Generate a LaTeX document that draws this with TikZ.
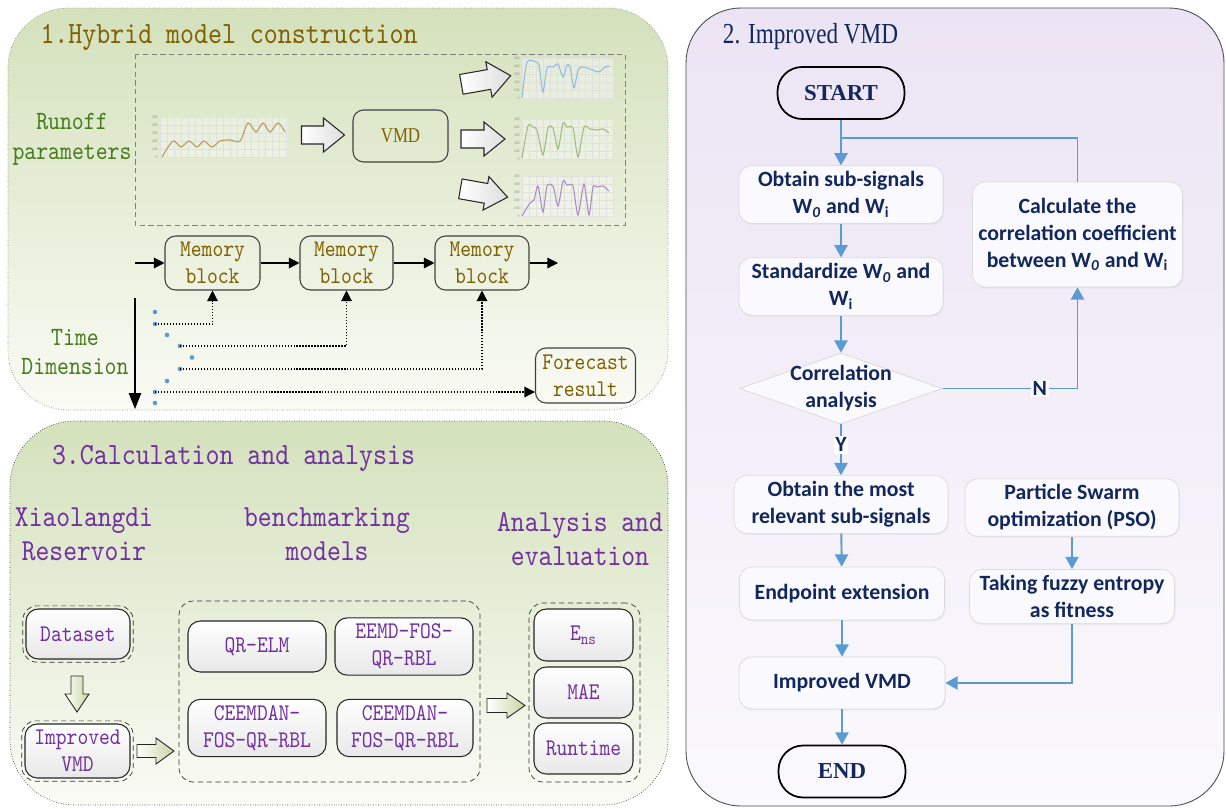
\documentclass[tikz,border=0pt]{standalone}
\usepackage{fontspec}
\usepackage{xcolor}
\usepackage{tikz}
\usetikzlibrary{arrows.meta,shapes.geometric,shadows,fit}
\setmainfont{Liberation Serif}
\newfontfamily\monofnt[FakeStretch=0.86]{lmmono10-regular.otf}
\newfontfamily\condfnt[FakeStretch=0.8]{Liberation Serif}
\newfontfamily\califnt{Carlito}
\definecolor{hdolive}{HTML}{7F6000}
\definecolor{hdgreen}{HTML}{457B1D}
\definecolor{hdpurple}{HTML}{7030A0}
\definecolor{flownavy}{HTML}{12285C}
\definecolor{flowblue}{HTML}{5B9BD5}
\definecolor{bggreen}{HTML}{D4E1BC}
\definecolor{bggreenlt}{HTML}{FAFBF5}
\definecolor{bglav}{HTML}{ECE4F4}
\definecolor{bglavlt}{HTML}{FAF9FD}
\definecolor{sigblue}{HTML}{8FBBE0}
\definecolor{siggreen}{HTML}{9DBB7E}
\definecolor{sigpurple}{HTML}{A98BC6}
\definecolor{sigtan}{HTML}{B59A5A}
\definecolor{arrgreen}{HTML}{C6D7A2}

\tikzset{
  pics/blockarr/.style n args={4}{code={
    \draw[pic actions] (-#1/2,-#3/2) -- (#1/2-#4,-#3/2) -- (#1/2-#4,-#2/2)
      -- (#1/2,0) -- (#1/2-#4,#2/2) -- (#1/2-#4,#3/2) -- (-#1/2,#3/2) -- cycle;}}}

\begin{document}
\begin{tikzpicture}[x=0.02cm,y=-0.02cm,
  mbox/.style={rectangle,draw=black!75,rounded corners=6pt,line width=0.6pt,
    align=center,text=hdolive,font=\monofnt\fontsize{13.6}{15.4}\selectfont},
  pbox/.style={rectangle,draw=black!85,rounded corners=7pt,line width=0.6pt,
    top color=white,bottom color=black!9,align=center,text=hdpurple,
    font=\monofnt\fontsize{13.6}{15.6}\selectfont},
  dashbox/.style={rectangle,draw=black!80,densely dashed,rounded corners=8pt},
  hdr/.style={align=center,text=hdpurple,font=\monofnt\fontsize{17.4}{19.4}\selectfont},
  hollow/.style={draw=black!85,line width=0.6pt,left color=white,right color=black!13},
  ghollow/.style={draw=black!85,line width=0.5pt,left color=white,right color=arrgreen},
  arr/.style={-{Triangle[length=6pt,width=6pt]},line width=0.7pt},
  darr/.style={-{Triangle[length=6pt,width=6pt]},densely dotted,line width=0.7pt},
  chartgrid/.style={black!12,line width=0.2pt},
  ticklbl/.style={inner sep=0pt,text=black!45,font=\fontsize{2.2}{2.2}\selectfont},
  fbox/.style={rectangle,draw=black!14,rounded corners=7pt,fill=bglavlt,
    drop shadow={shadow xshift=0.5pt,shadow yshift=-0.8pt,opacity=0.10},
    align=center,text=flownavy,
    font=\califnt\bfseries\fontsize{12.4}{15.4}\selectfont},
  term/.style={rectangle,draw=black,line width=1pt,rounded corners=14pt,
    minimum width=2.54cm,minimum height=1.04cm,text=flownavy,
    font=\bfseries\fontsize{13}{15}\selectfont},
  farr/.style={-{Triangle[length=7pt,width=7.5pt]},flowblue,line width=1.1pt},
  fline/.style={flowblue,line width=1.1pt},
  yn/.style={fill=white,inner sep=1pt,text=flownavy,
    font=\califnt\bfseries\fontsize{12.4}{14}\selectfont}]

  \useasboundingbox (0,0) rectangle (1226,808);

  % panel 1
  \draw[black!45,densely dotted,rounded corners=1.2cm,top color=bggreen,
    bottom color=bggreenlt] (8,8) rectangle (668,410);
  \node[font=\monofnt\fontsize{17.6}{20}\selectfont,text=hdolive] (ttl1) at (229,37)
    {1.Hybrid model construction};
  \node[align=center,text=hdgreen,font=\monofnt\fontsize{15}{17}\selectfont] (runoff)
    at (72,139) {Runoff\\parameters};
  \draw[black!50,densely dashed] (135,54) rectangle (625,225);

  % signal charts
  \foreach \cx/\cy/\cw in {160/117/128,522/58/91,522/119/91,522/176/91}{
    \fill[white,opacity=0.35] (\cx,\cy) rectangle (\cx+\cw,\cy+40);
    \foreach \k in {0,...,5}
      \draw[chartgrid] (\cx,\cy+8*\k) -- (\cx+\cw,\cy+8*\k);
    \foreach \j in {0,7,...,\cw}
      \draw[chartgrid] (\cx+\j,\cy) -- (\cx+\j,\cy+40);
    \foreach \k/\v in {0/500,1/400,2/300,3/200,4/100,5/0}
      \node[ticklbl,anchor=east] (tk\cy\k) at (\cx-2,\cy+8*\k) {\v};
  }
  \draw[sigtan,line width=0.6pt] plot[smooth,tension=0.5] coordinates {
    (162,157) (173,141) (181,147) (189,141) (197,147) (204,141) (212,147)
    (220,141) (230,140) (240,141) (248,123) (256,132) (263,123) (270,132)
    (278,123) (285,132)};
  \draw[sigblue,line width=0.6pt] plot[smooth,tension=0.4] coordinates {
    (522,98) (527,62) (536,62) (539,65) (543,92) (547,68) (553,67) (558,64)
    (563,77) (567,65) (570,67) (574,88) (578,70) (582,67) (590,69) (598,72)
    (602,70) (605,67) (610,66)};
  \draw[siggreen,line width=0.6pt] plot[smooth,tension=0.4] coordinates {
    (522,158) (528,126) (533,127) (537,130) (543,155) (548,128) (553,128)
    (558,149) (563,123) (567,127) (573,128) (578,157) (584,127) (590,129)
    (597,130) (603,129) (609,133)};
  \draw[sigpurple,line width=0.6pt] plot[smooth,tension=0.4] coordinates {
    (522,216) (530,203) (534,200) (538,186) (543,212) (547,186) (553,186)
    (558,206) (563,181) (567,185) (573,186) (578,215) (584,184) (589,215)
    (593,187) (597,187) (603,186) (609,191)};

  % block arrows: length, head width, shaft width, head length
  \pic[hollow] at (323,135) {blockarr={43}{34}{18}{21}};
  \node[mbox,minimum width=1.9cm,minimum height=1.04cm,
    font=\condfnt\fontsize{12}{14}\selectfont] (vmd) at (400.5,136) {VMD};
  \pic[hollow,rotate=10] at (486,80) {blockarr={50}{36}{20}{22}};
  \pic[hollow] at (483,139) {blockarr={44}{34}{18}{21}};
  \pic[hollow,rotate=-10] at (484,193) {blockarr={48}{34}{20}{22}};

  \node[mbox,minimum width=1.9cm,minimum height=1.08cm] (mem1) at (212.5,263) {Memory\\block};
  \node[mbox,minimum width=1.86cm,minimum height=1.08cm] (mem2) at (346.5,263) {Memory\\block};
  \node[mbox,minimum width=1.88cm,minimum height=1.08cm] (mem3) at (482,263) {Memory\\block};
  \node[mbox,minimum width=2cm,minimum height=1.1cm] (fc) at (585.5,375.5) {Forecast\\result};
  \coordinate (memin) at (135,263);
  \coordinate (memout) at (558,263);
  \draw[arr] (memin) -- (mem1);
  \draw[arr] (mem1) -- (mem2);
  \draw[arr] (mem2) -- (mem3);
  \draw[arr] (mem3) -- (memout);

  \node[align=center,text=hdgreen,font=\monofnt\fontsize{15}{17}\selectfont] (timedim)
    at (75,352) {Time\\Dimension};
  \coordinate (tatop) at (135,298);
  \coordinate (tabot) at (135,409);
  \draw[-{Triangle[length=9pt,width=7pt]},line width=0.7pt] (tatop) -- (tabot);
  \foreach \i/\px/\py in {1/155/312,2/155/324,3/167/335,4/180/346,5/192/357.5,
      6/180/369,7/167/381,8/155/392,9/155/403}
    \node[circle,fill=flowblue,inner sep=0pt,minimum size=2.6pt] (dot\i) at (\px,\py) {};
  \draw[darr] (dot2.center) -| (mem1);
  \draw[darr] (dot4.center) -| (mem2);
  \draw[darr] (dot6.center) -| (mem3);
  \draw[darr] (dot8.center) -- (dot8 -| fc.west);

  % panel 3
  \draw[black!75,densely dotted,rounded corners=1.3cm,top color=bggreen,
    bottom color=bggreenlt] (10,421) rectangle (668,805);
  \node[font=\monofnt\fontsize{17.6}{20}\selectfont,text=hdpurple] (ttl3) at (233.5,458)
    {3.Calculation and analysis};
  \node[hdr] (hdres) at (84,534.5) {Xiaolangdi\\Reservoir};
  \node[hdr] (hdbench) at (327,534.5) {benchmarking\\models};
  \node[hdr] (hdeval) at (580,539.5) {Analysis and\\evaluation};

  \node[pbox,minimum width=2.08cm,minimum height=1cm] (ds) at (78,634) {Dataset};
  \node[dashbox,fit=(ds),inner sep=1.5pt] (dsout) {};
  \node[pbox,minimum width=2.1cm,minimum height=1.08cm] (ivmd) at (77.5,751) {Improved\\VMD};
  \node[dashbox,fit=(ivmd),inner sep=1.5pt] (ivmdout) {};
  \pic[ghollow,rotate=-90] at (77,694) {blockarr={36}{24}{12}{18}};
  \pic[ghollow] at (155.5,751) {blockarr={37}{26}{13}{18}};

  \node[dashbox,minimum width=6.02cm,minimum height=3.62cm] (bench) at (329.5,691.5) {};
  \node[pbox,minimum width=2.76cm,minimum height=1.02cm] (qr) at (257,646.5) {QR-ELM};
  \node[pbox,minimum width=2.76cm,minimum height=1.02cm] (eemd) at (404,646.5) {EEMD-FOS-\\QR-RBL};
  \node[pbox,minimum width=2.76cm,minimum height=1.04cm] (cee1) at (257,728) {CEEMDAN-\\FOS-QR-RBL};
  \node[pbox,minimum width=2.72cm,minimum height=1.04cm] (cee2) at (405,728) {CEEMDAN-\\FOS-QR-RBL};
  \pic[ghollow] at (506,705.5) {blockarr={38}{25}{14}{18}};

  \node[dashbox,minimum width=2.22cm,minimum height=3.58cm] (evalbox) at (584.5,692.5) {};
  \node[pbox,minimum width=1.98cm,minimum height=1.04cm] (ens) at (583.5,635) {E\textsubscript{ns}};
  \node[pbox,minimum width=1.98cm,minimum height=1.02cm] (mae) at (583.5,692.5) {MAE};
  \node[pbox,minimum width=1.98cm,minimum height=1.02cm] (rt) at (583.5,748.5) {Runtime};

  % panel 2
  \draw[black!70,line width=0.5pt,rounded corners=1.1cm,top color=bglav,
    bottom color=bglavlt] (686,8) rectangle (1224,806);
  \node[text=flownavy,font=\condfnt\fontsize{16.5}{18}\selectfont] (ttl2) at (810.5,37)
    {2. Improved VMD};

  \node[term] (start) at (841,93) {START};
  \node[fbox,minimum width=4.08cm,minimum height=1.06cm] (obt) at (841,194.5)
    {Obtain sub-signals\\W\textsubscript{\textit{0}} and W\textsubscript{i}};
  \node[fbox,minimum width=4.08cm,minimum height=1.06cm] (std) at (841,286.5)
    {Standardize W\textsubscript{\textit{0}} and\\W\textsubscript{i}};
  \node[fbox,minimum width=4.18cm,minimum height=2.1cm] (calc) at (1077.5,234.5)
    {Calculate the\\correlation coefficient\\between W\textsubscript{\textit{0}} and W\textsubscript{i}};
  \node[diamond,draw=black!15,fill=bglavlt,minimum width=4.06cm,minimum height=1.42cm,
    inner sep=0pt,label={[align=center,text=flownavy,
    font=\califnt\bfseries\fontsize{12.4}{15.4}\selectfont]center:Correlation\\analysis}]
    (corr) at (841,388.5) {};
  \node[fbox,minimum width=4.28cm,minimum height=1.06cm] (rel) at (841,504.5)
    {Obtain the most\\relevant sub-signals};
  \node[fbox,minimum width=4.28cm,minimum height=1.02cm] (pso) at (1072,507.5)
    {Particle Swarm\\optimization (PSO)};
  \node[fbox,minimum width=4.1cm,minimum height=1.06cm] (endp) at (842,593.5)
    {Endpoint extension};
  \node[fbox,minimum width=4.1cm,minimum height=1.06cm] (fuzzy) at (1072,596.5)
    {Taking fuzzy entropy\\as fitness};
  \node[fbox,minimum width=4.12cm,minimum height=1.04cm] (imp) at (842,683)
    {Improved VMD};
  \node[term] (end) at (842,771.5) {END};

  \coordinate (jn) at (841,138);
  \draw[farr] (start) -- (obt);
  \draw[fline] (calc) |- (jn);
  \draw[farr] (obt) -- (std);
  \draw[farr] (std) -- (corr);
  \draw[farr] (corr) -| node[yn,pos=0.36] (lbln) {N} (calc);
  \draw[farr] (corr) -- node[yn,pos=0.4] (lbly) {Y} (rel);
  \draw[farr] (rel) -- (endp);
  \draw[farr] (endp) -- (imp);
  \draw[farr] (imp) -- (end);
  \draw[farr] (pso) -- (fuzzy);
  \draw[farr] (fuzzy) |- (imp);
\end{tikzpicture}
\end{document}
